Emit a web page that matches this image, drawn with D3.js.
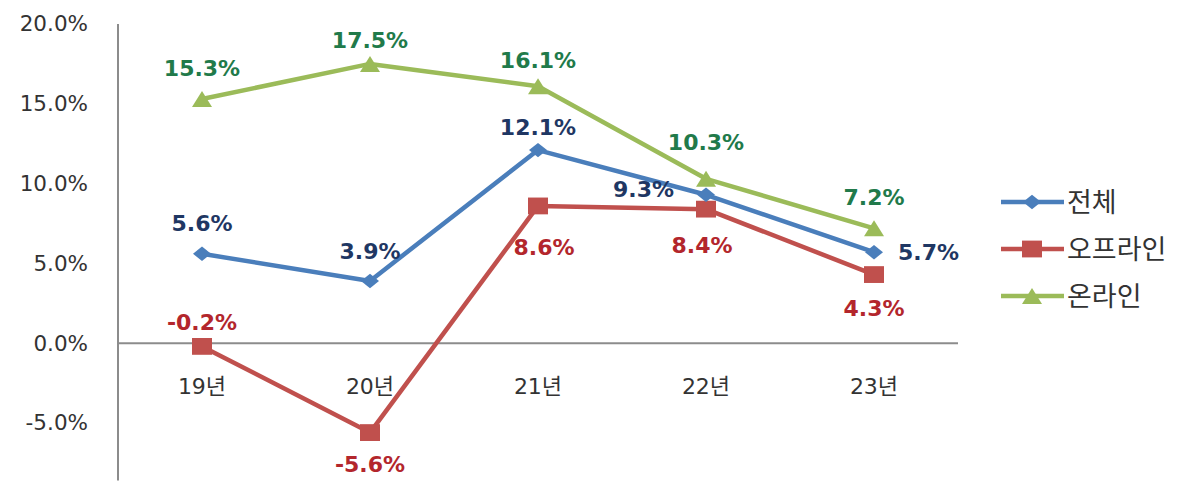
<!DOCTYPE html>
<html>
<head>
<meta charset="utf-8">
<title>성장률 추이</title>
<script src="https://cdn.jsdelivr.net/npm/d3@7"></script>
<style>
  body { margin: 0; background: #fff; }
  text { font-family: "DejaVu Sans", "Noto Sans CJK KR", sans-serif; }
</style>
</head>
<body>
<script>
// data
var years = ["19년", "20년", "21년", "22년", "23년"];
var total = [5.6, 3.9, 12.1, 9.3, 5.7];
var offline = [-0.2, -5.6, 8.6, 8.4, 4.3];
var online = [15.3, 17.5, 16.1, 10.3, 7.2];
var yTicks = [-5, 0, 5, 10, 15, 20];
var seriesNames = ["전체", "오프라인", "온라인"];

var w = 1200, h = 486;

var svg = d3.select("body").append("svg")
    .attr("width", w)
    .attr("height", h);

var x = d3.scaleBand().domain(years).range([118, 958]);
var y = d3.scaleLinear().domain([-5, 20]).range([423, 24]);

// y axis
var yAxis = d3.axisLeft(y).tickValues(yTicks).tickSize(0).tickPadding(30)
    .tickFormat(function(d) { return d.toFixed(1) + "%"; });
var gy = svg.append("g").attr("transform", "translate(118,0)").call(yAxis);
gy.select(".domain").remove();
gy.selectAll("text")
    .attr("font-size", 21.5)
    .attr("fill", "#333")
    .style("font-family", "'DejaVu Sans', sans-serif");
svg.append("line")
    .attr("x1", 118).attr("x2", 118)
    .attr("y1", y(20)).attr("y2", y(-8.6))
    .attr("stroke", "#8c8c8c").attr("stroke-width", 2);

// zero line (category axis)
svg.append("line")
    .attr("x1", 118).attr("x2", 958)
    .attr("y1", y(0)).attr("y2", y(0))
    .attr("stroke", "#8c8c8c").attr("stroke-width", 2);

// category labels
svg.selectAll(".cat").data(years).enter().append("text")
    .attr("class", "cat")
    .attr("x", function(d) { return x(d) + x.bandwidth() / 2; })
    .attr("y", y(0) + 43)
    .attr("dy", "0.35em")
    .attr("text-anchor", "middle")
    .attr("font-size", 22)
    .attr("fill", "#333")
    .text(function(d) { return d; });

function cx(i) { return x(years[i]) + x.bandwidth() / 2; }

// wide, flat marker shapes (symbol size = width in px)
var diamond = { draw: function(c, s) { var a = s / 2, b = s * 0.4;
  c.moveTo(-a, 0); c.lineTo(0, -b); c.lineTo(a, 0); c.lineTo(0, b); c.closePath(); } };
var square = { draw: function(c, s) { var a = s / 2, b = s * 0.42;
  c.moveTo(-a, -b); c.lineTo(a, -b); c.lineTo(a, b); c.lineTo(-a, b); c.closePath(); } };
var triangle = { draw: function(c, s) { var a = s / 2, b = s * 0.4;
  c.moveTo(0, -b); c.lineTo(a, b); c.lineTo(-a, b); c.closePath(); } };

var series = [
  { name: "전체", values: total, line: "#4a7ebb", label: "#1f3763", shape: diamond, size: 18 },
  { name: "오프라인", values: offline, line: "#c0504d", label: "#b3262c", shape: square, size: 20 },
  { name: "온라인", values: online, line: "#9bbb59", label: "#217a4a", shape: triangle, size: 20 }
];

var line = d3.line()
    .x(function(d, i) { return cx(i); })
    .y(function(d) { return y(d); });

// draw order: offline, total, online (online on top)
[series[1], series[0], series[2]].forEach(function(s) {
  svg.append("path")
      .attr("d", line(s.values))
      .attr("fill", "none")
      .attr("stroke", s.line)
      .attr("stroke-width", 4.5)
      .attr("stroke-linejoin", "round");
  svg.selectAll(null).data(s.values).enter().append("path")
      .attr("transform", function(d, i) { return "translate(" + cx(i) + "," + y(d) + ")"; })
      .attr("d", d3.symbol().type(s.shape).size(s.size))
      .attr("fill", s.line);
});

// data label offsets [dx, dy, anchor]
var totalPos = [[0, -31, "middle"], [0, -30, "middle"], [0, -23, "middle"], [-32, -6, "end"], [24, 0, "start"]];
var offlinePos = [[0, -24, "middle"], [0, 32, "middle"], [6, 41, "middle"], [-4, 36, "middle"], [0, 34, "middle"]];
var onlinePos = [[0, -31, "middle"], [0, -24, "middle"], [0, -26, "middle"], [0, -37, "middle"], [0, -31, "middle"]];
var positions = [totalPos, offlinePos, onlinePos];

series.forEach(function(s, k) {
  svg.selectAll(null).data(s.values).enter().append("text")
      .attr("x", function(d, i) { return cx(i) + positions[k][i][0]; })
      .attr("y", function(d, i) { return y(d) + positions[k][i][1]; })
      .attr("dy", "0.36em")
      .attr("text-anchor", function(d, i) { return positions[k][i][2]; })
      .attr("font-size", 22)
      .attr("font-weight", "bold")
      .attr("fill", s.label)
      .text(function(d) { return d.toFixed(1) + "%"; });
});

// legend
var legend = svg.append("g").attr("transform", "translate(1001,202)");
series.forEach(function(s, k) {
  var g = legend.append("g").attr("transform", "translate(0," + (k * 47) + ")");
  g.append("line").attr("x1", 0).attr("x2", 63).attr("y1", 0).attr("y2", 0)
      .attr("stroke", s.line).attr("stroke-width", 4.5);
  g.append("path").attr("transform", "translate(31,0)")
      .attr("d", d3.symbol().type(s.shape).size(s.size))
      .attr("fill", s.line);
  g.append("text").attr("x", 66).attr("y", 0).attr("dy", "0.36em")
      .attr("font-size", 27)
      .attr("fill", "#333")
      .style("font-family", "'Noto Sans CJK KR', sans-serif")
      .text(s.name);
});
</script>
</body>
</html>
